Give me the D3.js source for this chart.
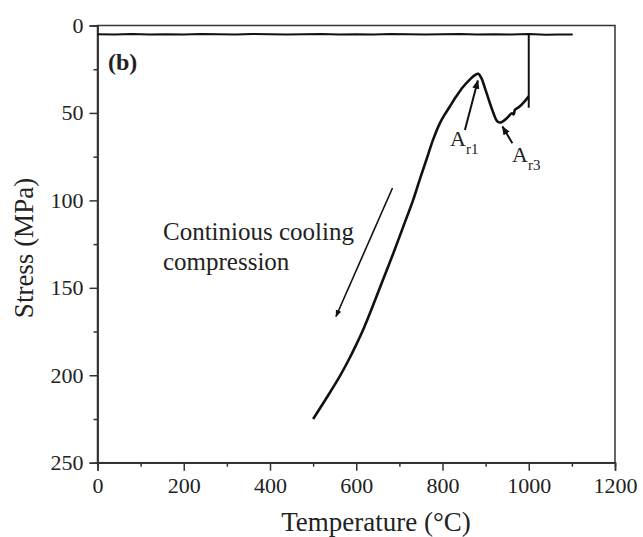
<!DOCTYPE html>
<html><head><meta charset="utf-8">
<script src="https://cdn.jsdelivr.net/npm/d3@7"></script>
<style>body{margin:0;background:#fff}svg{display:block}text{font-family:"Liberation Serif","Times New Roman",serif;fill:#222}</style>
</head><body><svg id="c" width="643" height="537"></svg>
<script>
// ---- data ----
const xMajorTicks = [0,200,400,600,800,1000,1200];
const xMinorTicks = [100,300,500,700,900,1100];
const yMajorTicks = [0,50,100,150,200,250];
const yMinorTicks = [25,75,125,175,225];
// holding line (temperature °C, stress MPa)
const holdTemp   = [0,40,80,120,160,200,240,280,320,360,400,440,480,520,560,600,640,680,720,760,800,840,880,920,960,1000,1040,1070,1102];
const holdStress = [5,5.2,4.9,5.1,5.0,5.2,4.9,5.0,5.1,4.9,5.0,5.2,5.0,4.9,5.1,5.0,5.2,4.9,5.0,5.1,5.0,4.9,5.1,5.0,5.2,4.9,5.3,5.1,5.2];
// drop at 1000 °C
const dropTemp   = [1000,1000];
const dropStress = [5,47];
// continuous cooling compression curve
const coolTemp   = [1000,990,978,968,965,961,950,940,933,926,918,908,898,890,883,876,865,848,832,817,805,794,778,767,747,732,709,686,662,639,616,600,585,562,531,500];
const coolStress = [40.5,43.5,46.5,48.2,50.8,50.2,52.8,54.8,55.5,54.5,50,43,35.5,30,27.6,28.2,30.5,35,40.5,46.3,51,55.8,65.4,73.5,88.3,99.7,115,130.2,145.4,160,174,182.5,190,200.5,213,225];

// ---- layout ----
const svg = d3.select("#c");
const L = 97.5, R = 615, T = 25.5, B = 462.7;
const x = d3.scaleLinear().domain([0,1200]).range([L,R]);
const y = d3.scaleLinear().domain([0,250]).range([T,B]);
const axisColor = "#333";

// frame
svg.append("rect").attr("x",L).attr("y",T).attr("width",R-L).attr("height",B-T)
  .attr("fill","none").attr("stroke",axisColor).attr("stroke-width",1.5);

function styleAxis(g){
  g.select(".domain").attr("stroke",axisColor).attr("stroke-width",1.5);
  g.selectAll(".tick line").attr("stroke",axisColor).attr("stroke-width",1.5);
  g.selectAll(".tick text").style("font-family","Liberation Serif").style("font-size","22px").attr("fill","#222");
}
const gx = svg.append("g").attr("transform",`translate(0,${B})`)
  .call(d3.axisBottom(x).tickValues(xMajorTicks).tickSize(8).tickPadding(7).tickFormat(d3.format("d")));
styleAxis(gx);
const gxm = svg.append("g").attr("transform",`translate(0,${B})`)
  .call(d3.axisBottom(x).tickValues(xMinorTicks).tickSize(4).tickFormat(""));
styleAxis(gxm);
const gy = svg.append("g").attr("transform",`translate(${L},0)`)
  .call(d3.axisLeft(y).tickValues(yMajorTicks).tickSize(8).tickPadding(6).tickFormat(d3.format("d")));
styleAxis(gy);
const gym = svg.append("g").attr("transform",`translate(${L},0)`)
  .call(d3.axisLeft(y).tickValues(yMinorTicks).tickSize(4).tickFormat(""));
styleAxis(gym);

// axis titles
svg.append("text").attr("x",376).attr("y",531).attr("text-anchor","middle")
  .style("font-size","27px").text("Temperature (°C)");
svg.append("text").attr("transform","translate(33,248) rotate(-90)").attr("text-anchor","middle")
  .style("font-size","27px").text("Stress (MPa)");

// lines
const line = d3.line().x(d=>x(d[0])).y(d=>y(d[1]));
const zip = (a,b)=>a.map((v,i)=>[v,b[i]]);
svg.append("path").datum(zip(holdTemp,holdStress)).attr("d",line)
  .attr("fill","none").attr("stroke","#111").attr("stroke-width",2);
svg.append("path").datum(zip(dropTemp,dropStress)).attr("d",line)
  .attr("fill","none").attr("stroke","#111").attr("stroke-width",2);
svg.append("path").datum(zip(coolTemp,coolStress)).attr("d",d3.line().x(d=>x(d[0])).y(d=>y(d[1])).curve(d3.curveCatmullRom))
  .attr("fill","none").attr("stroke","#111").attr("stroke-width",2.6).attr("stroke-linejoin","round");

// arrows
const defs = svg.append("defs");
defs.append("marker").attr("id","ah").attr("viewBox","0 0 10 10").attr("refX",9).attr("refY",5)
  .attr("markerWidth",4.5).attr("markerHeight",4.5).attr("markerUnits","strokeWidth").attr("orient","auto")
  .append("path").attr("d","M0,1 L10,5 L0,9 Z").attr("fill","#111");
function arrow(t0,s0,t1,s1,w){
  svg.append("line").attr("x1",x(t0)).attr("y1",y(s0)).attr("x2",x(t1)).attr("y2",y(s1))
    .attr("stroke","#111").attr("stroke-width",w).attr("marker-end","url(#ah)");
}
arrow(852,59.7,882,31.5,2);
arrow(962,67.3,939,57.8,2);
arrow(684,92.9,553,166.4,1.6);

// labels
svg.append("text").attr("x",108).attr("y",70).style("font-size","24px").style("font-weight","bold").text("(b)");
const ar1 = svg.append("text").attr("x",450).attr("y",146).style("font-size","22px");
ar1.append("tspan").text("A");
ar1.append("tspan").attr("dy",8).style("font-size","15px").text("r1");
const ar3 = svg.append("text").attr("x",512).attr("y",162).style("font-size","22px");
ar3.append("tspan").text("A");
ar3.append("tspan").attr("dy",8).style("font-size","15px").text("r3");
svg.append("text").attr("x",163).attr("y",240).style("font-size","25px").text("Continious cooling");
svg.append("text").attr("x",163).attr("y",270).style("font-size","25px").text("compression");
</script></body></html>
